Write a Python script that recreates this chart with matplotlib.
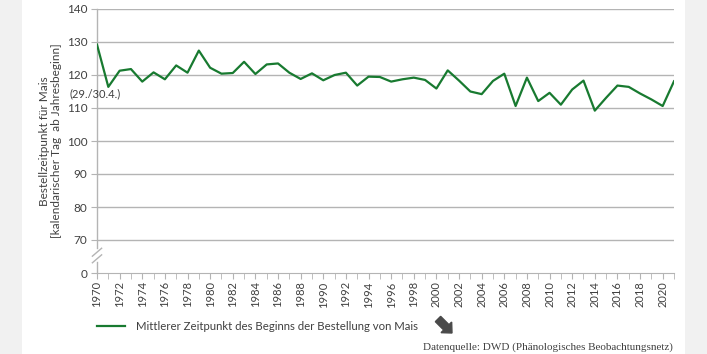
import matplotlib.pyplot as plt
from matplotlib.patches import Rectangle, FancyArrow
from matplotlib.ticker import MultipleLocator
import matplotlib.transforms as mtransforms

# data: mean start of maize sowing (day of year)
years = list(range(1970, 2022))
sowing_day = [129.2, 116.4, 121.3, 121.8, 118.0, 120.8, 118.7, 122.9, 120.7, 127.4,
              122.2, 120.4, 120.6, 124.0, 120.3, 123.2, 123.5, 120.7, 118.8, 120.5,
              118.4, 120.0, 120.7, 116.8, 119.5, 119.4, 118.0, 118.7, 119.2, 118.5,
              115.9, 121.4, 118.3, 115.0, 114.2, 118.2, 120.4, 110.6, 119.2, 112.1,
              114.6, 111.0, 115.6, 118.3, 109.2, 113.1, 116.8, 116.4, 114.4, 112.6,
              110.6, 118.1]
y_ticks = [60, 70, 80, 90, 100, 110, 120, 130, 140]
y_tick_labels = ['0', '70', '80', '90', '100', '110', '120', '130', '140']

line_color = '#187a30'
grid_color = '#b4b4b4'
text_color = '#404040'

plt.rcParams['font.family'] = ['Lato', 'DejaVu Sans']

fig = plt.figure(figsize=(7.07, 3.54), dpi=100)
fig.patch.set_facecolor('#f1f1f1')
fig.patches.append(Rectangle((22 / 707, 0), 663 / 707, 1, transform=fig.transFigure,
                             facecolor='white', edgecolor='none', zorder=-10))

ax = fig.add_axes([97 / 707, 1 - 273 / 354, 577 / 707, 264 / 354])
ax.set_facecolor('none')
ax.plot(years, sowing_day, color=line_color, lw=1.6, zorder=3,
        label='Mittlerer Zeitpunkt des Beginns der Bestellung von Mais')

ax.set_xlim(1970, 2021)
ax.set_ylim(60, 140)
ax.set_yticks(y_ticks)
ax.set_yticklabels(y_tick_labels)
for v in y_ticks[1:]:
    ax.axhline(v, color=grid_color, lw=1, zorder=1)

ax.xaxis.set_major_locator(MultipleLocator(2))
ax.xaxis.set_minor_locator(MultipleLocator(1))
ax.tick_params(axis='x', which='both', length=4, color=grid_color, labelrotation=90,
               labelsize=8, labelcolor=text_color, pad=2)
ax.tick_params(axis='y', length=4, color=grid_color, labelsize=8.5, labelcolor=text_color, pad=3)

for s in ['top', 'right', 'left']:
    ax.spines[s].set_visible(False)
ax.spines['bottom'].set_color(grid_color)

# broken y axis
trans = mtransforms.blended_transform_factory(ax.transAxes, ax.transData)
ax.plot([0, 0], [67.6, 140], color=grid_color, lw=1, transform=trans, clip_on=False)
ax.plot([0, 0], [60, 63.3], color=grid_color, lw=1, transform=trans, clip_on=False)
for yb in [64.3, 66.3]:
    ax.plot([-0.008, 0.008], [yb - 1.2, yb + 1.2], color=grid_color, lw=1,
            transform=trans, clip_on=False)

ax.text(-0.0485, 114.4, '(29./30.4.)', transform=trans, ha='left', va='center',
        fontsize=8, color=text_color)

ax.set_ylabel('Bestellzeitpunkt für Mais\n[kalendarischer Tag  ab Jahresbeginn]',
              fontsize=8.5, color=text_color, linespacing=1.1)
ax.yaxis.set_label_coords(-0.061, 0.5)

ax.legend(loc='center left', bbox_to_anchor=(97 / 707, 1 - 326 / 354),
          bbox_transform=fig.transFigure, frameon=False, fontsize=8.2,
          handlelength=2.5, handletextpad=0.9, borderpad=0, borderaxespad=0,
          labelcolor=text_color)

fig.patches.append(FancyArrow(4.38, 0.35, 0.14, -0.14, width=0.075, head_width=0.15,
                              head_length=0.08, length_includes_head=True,
                              transform=fig.dpi_scale_trans, color='#4a4a4a'))

fig.text(673 / 707, 1 - 347 / 354, 'Datenquelle: DWD (Phänologisches Beobachtungsnetz)',
         ha='right', va='center', fontsize=8, color=text_color,
         family=['Liberation Serif', 'DejaVu Serif'])

fig.savefig('out.png', dpi=100, facecolor=fig.get_facecolor())
